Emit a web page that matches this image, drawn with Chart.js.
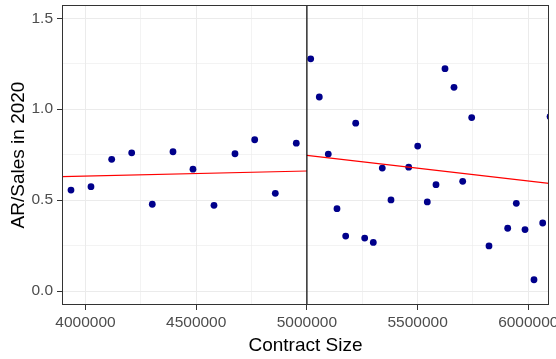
<!DOCTYPE html>
<html>
<head>
<meta charset="utf-8">
<title>AR/Sales vs Contract Size</title>
<script src="https://cdn.jsdelivr.net/npm/chart.js@4.4.1/dist/chart.umd.min.js"></script>
<style>
    html, body { margin: 0; padding: 0; background: #fff; }
</style>
</head>
<body>
<canvas id="arChart" width="556" height="359"></canvas>
<script>
// Observations below the 5,000,000 cutoff
const leftX = [3934500, 4024800, 4118300, 4208700, 4301700, 4395200, 4485500, 4580400, 4675200, 4764200, 4857300, 4952100];
const leftY = [0.555, 0.574, 0.724, 0.760, 0.477, 0.766, 0.670, 0.471, 0.755, 0.832, 0.537, 0.813];

// Observations above the cutoff
const rightX = [5017200, 5056000, 5096600, 5135900, 5175200, 5220400, 5261000, 5299900, 5340500, 5379800,
    5459800, 5500500, 5543800, 5583100, 5623800, 5664400, 5703700, 5744300, 5822500, 5906900,
    5945800, 5985100, 6025700, 6065000, 6098000];
const rightY = [1.277, 1.067, 0.753, 0.453, 0.302, 0.923, 0.291, 0.267, 0.676, 0.501,
    0.681, 0.797, 0.490, 0.585, 1.223, 1.120, 0.603, 0.954, 0.248, 0.345,
    0.482, 0.338, 0.062, 0.374, 0.959];

// Fitted lines (end points) on each side
const fitLeftX = [3893900, 5000000];
const fitLeftY = [0.629, 0.660];
const fitRightX = [5000000, 6093500];
const fitRightY = [0.746, 0.592];

// Cutoff and axis ranges
const cutoff = 5000000;
const xRange = [3893900, 6093500];
const yRange = [-0.077, 1.573];

// Grid / tick values (major ones get labels)
const xTicks = [4000000, 4250000, 4500000, 4750000, 5000000, 5250000, 5500000, 5750000, 6000000];
const xMajor = [4000000, 4500000, 5000000, 5500000, 6000000];
const yTicks = [0, 0.25, 0.5, 0.75, 1.0, 1.25, 1.5];
const yMajor = [0, 0.5, 1.0, 1.5];

const FONT = "'Liberation Sans', Arial, sans-serif";

function toPoints(xs, ys) {
    return xs.map((x, i) => ({ x: x, y: ys[i] }));
}

// draws the full panel border like theme_bw
const panelBorder = {
    id: 'panelBorder',
    afterDraw(chart) {
        const a = chart.chartArea;
        const ctx = chart.ctx;
        ctx.save();
        ctx.strokeStyle = '#333333';
        ctx.lineWidth = 1;
        ctx.strokeRect(Math.round(a.left) + 0.5, Math.round(a.top) + 0.5,
            Math.round(a.right - a.left) - 1, Math.round(a.bottom - a.top) - 1);
        ctx.restore();
    }
};

const isMajor = (list, v) => list.some(m => Math.abs(m - v) < 1e-6);

new Chart(document.getElementById('arChart'), {
    type: 'scatter',
    data: {
        datasets: [
            {
                label: 'cutoff',
                data: [{ x: cutoff, y: yRange[0] }, { x: cutoff, y: yRange[1] }],
                showLine: true,
                borderColor: '#000000',
                borderWidth: 1.2,
                pointRadius: 0,
                clip: 0
            },
            {
                label: 'fit left',
                data: toPoints(fitLeftX, fitLeftY),
                showLine: true,
                borderColor: '#ff0000',
                borderWidth: 1.1,
                pointRadius: 0,
                clip: 0
            },
            {
                label: 'fit right',
                data: toPoints(fitRightX, fitRightY),
                showLine: true,
                borderColor: '#ff0000',
                borderWidth: 1.1,
                pointRadius: 0,
                clip: 0
            },
            {
                label: 'below',
                data: toPoints(leftX, leftY),
                backgroundColor: '#00008b',
                borderColor: '#00008b',
                borderWidth: 0,
                pointRadius: 3.4,
                clip: 0
            },
            {
                label: 'above',
                data: toPoints(rightX, rightY),
                backgroundColor: '#00008b',
                borderColor: '#00008b',
                borderWidth: 0,
                pointRadius: 3.4,
                clip: 0
            }
        ]
    },
    options: {
        responsive: false,
        animation: false,
        layout: { padding: { top: 5, right: 7, left: 0, bottom: 0 } },
        plugins: {
            legend: { display: false },
            tooltip: { enabled: false }
        },
        scales: {
            x: {
                type: 'linear',
                min: xRange[0],
                max: xRange[1],
                afterBuildTicks: scale => { scale.ticks = xTicks.map(v => ({ value: v })); },
                afterFit: scale => {
                    scale.height = 54;
                    scale.paddingLeft = 0;
                    scale.paddingRight = 0;
                },
                border: { display: false },
                grid: {
                    color: '#ebebeb',
                    lineWidth: ctx => isMajor(xMajor, ctx.tick ? ctx.tick.value : 0) ? 1 : 0.6,
                    tickColor: ctx => isMajor(xMajor, ctx.tick ? ctx.tick.value : 0) ? '#333333' : 'rgba(0,0,0,0)',
                    tickLength: 5,
                    drawOnChartArea: true
                },
                ticks: {
                    autoSkip: false,
                    maxRotation: 0,
                    padding: 3,
                    color: '#4d4d4d',
                    font: { size: 15.5, family: FONT },
                    callback: v => isMajor(xMajor, v) ? String(v) : ''
                },
                title: {
                    display: true,
                    text: 'Contract Size',
                    color: '#000000',
                    font: { size: 19, family: FONT },
                    padding: { top: 0, bottom: 2 }
                }
            },
            y: {
                type: 'linear',
                min: yRange[0],
                max: yRange[1],
                afterBuildTicks: scale => { scale.ticks = yTicks.map(v => ({ value: v })); },
                afterFit: scale => {
                    scale.width = 62;
                    scale.paddingTop = 0;
                    scale.paddingBottom = 0;
                },
                border: { display: false },
                grid: {
                    color: '#ebebeb',
                    lineWidth: ctx => isMajor(yMajor, ctx.tick ? ctx.tick.value : 0) ? 1 : 0.6,
                    tickColor: ctx => isMajor(yMajor, ctx.tick ? ctx.tick.value : 0) ? '#333333' : 'rgba(0,0,0,0)',
                    tickLength: 5
                },
                ticks: {
                    autoSkip: false,
                    padding: 4,
                    color: '#4d4d4d',
                    font: { size: 15.5, family: FONT },
                    callback: v => isMajor(yMajor, v) ? v.toFixed(1) : ''
                },
                title: {
                    display: true,
                    text: 'AR/Sales in 2020',
                    color: '#000000',
                    font: { size: 19, family: FONT },
                    padding: { top: 7, bottom: 0 }
                }
            }
        }
    },
    plugins: [panelBorder]
});
</script>
</body>
</html>
